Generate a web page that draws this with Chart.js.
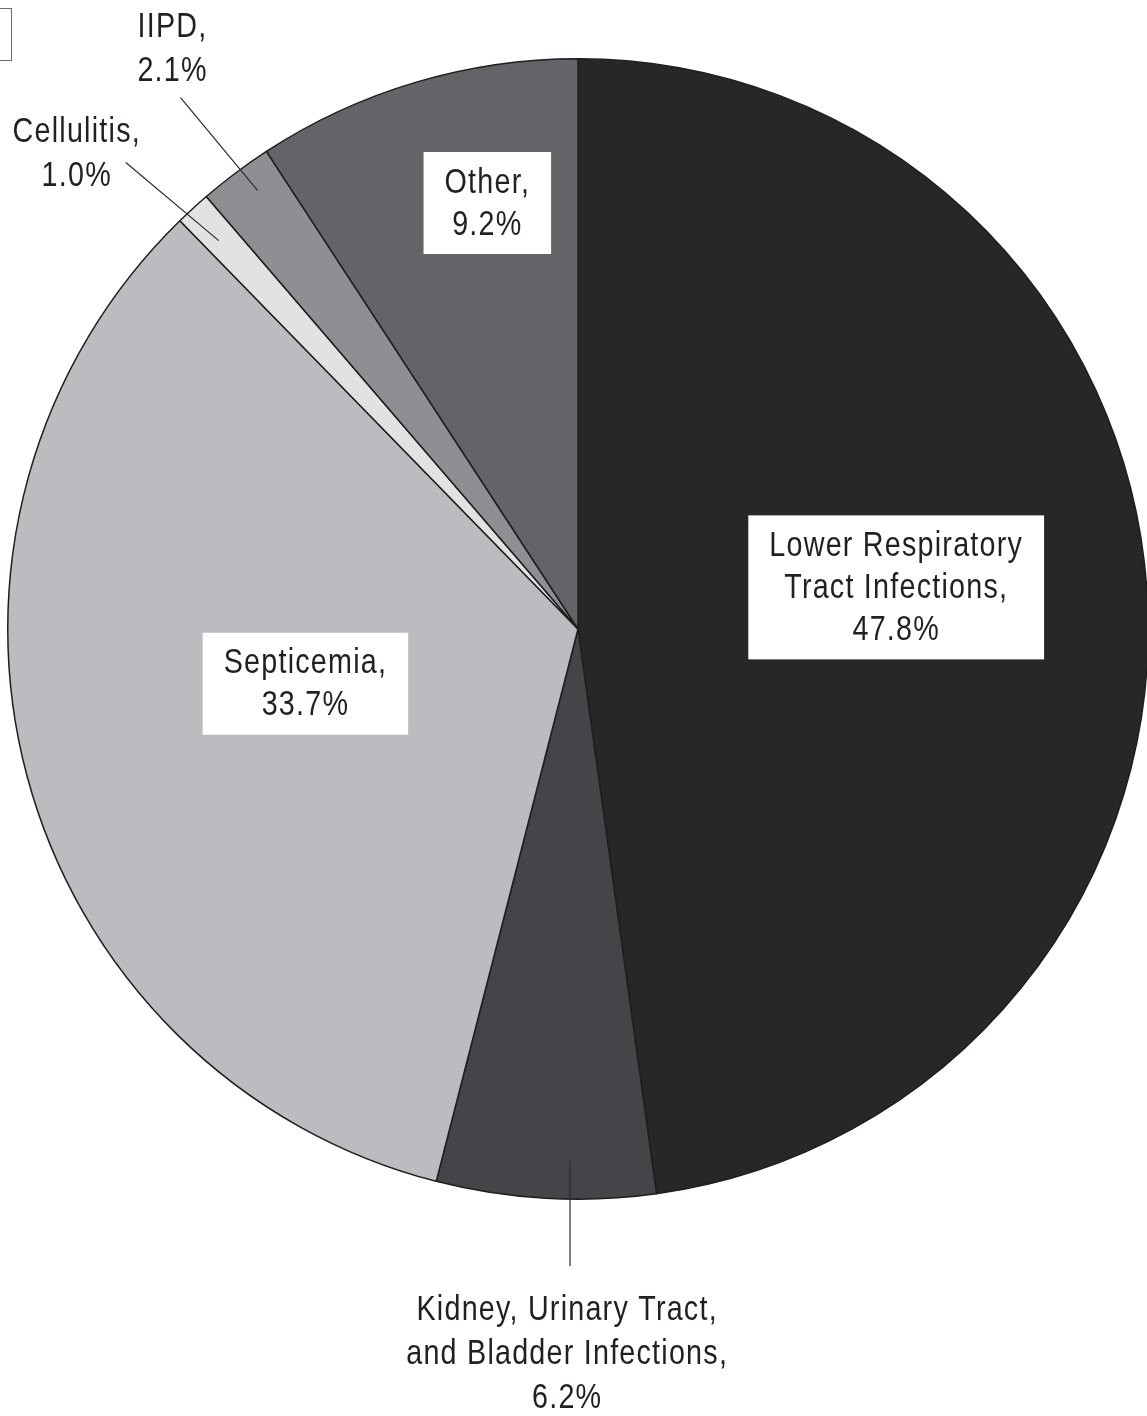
<!DOCTYPE html>
<html>
<head>
<meta charset="utf-8">
<script src="https://cdn.jsdelivr.net/npm/chart.js@4.4.1/dist/chart.umd.min.js"></script>
<style>
  html, body { margin: 0; padding: 0; background: #fff; overflow: hidden; }
  #wrap { position: relative; width: 1147px; height: 1416px; overflow: hidden; }
  #wrap canvas { position: absolute; left: 0; top: 0; }
  .corner { position: absolute; left: -2px; top: 8px; width: 12px; height: 51px; border: 1px solid #6a6a6a; }
</style>
</head>
<body>
<div id="wrap">
  <canvas id="infChart" width="1160" height="1416"></canvas>
  <div class="corner"></div>
</div>
<script>
// slices, clockwise from 12 o'clock
const categories = ["Lower Respiratory Tract Infections", "Kidney, Urinary Tract, and Bladder Infections", "Septicemia", "Cellulitis", "IIPD", "Other"];
const shares = [47.8, 6.2, 33.7, 1.0, 2.1, 9.2];
const labelText = [
    ["Lower Respiratory", "Tract Infections,"],
    ["Kidney, Urinary Tract,", "and Bladder Infections,"],
    ["Septicemia,"],
    ["Cellulitis,"],
    ["IIPD,"],
    ["Other,"]
];
const sliceColors = ["#282627", "#454448", "#bbbcbf", "#e2e2e2", "#8e8f93", "#636467"];

// label placement, in units of the pie radius from its centre
const labelLayout = [
    { boxed: true, x: 0.558, y: -0.073 },
    { boxed: false, x: -0.019, y: 1.271, lead: [-0.014, 0.933, -0.014, 1.117] },
    { boxed: true, x: -0.478, y: 0.096 },
    { boxed: false, x: -0.879, y: -0.834, lead: [-0.630, -0.681, -0.793, -0.818] },
    { boxed: false, x: -0.711, y: -1.019, lead: [-0.562, -0.769, -0.697, -0.932] },
    { boxed: true, x: -0.159, y: -0.747 }
];

// no narrow font installed, so squeeze Liberation Sans horizontally
const SQUEEZE = 0.82;

const labelPlugin = {
    id: "sliceLabels",
    afterDatasetsDraw(chart) {
        const ctx = chart.ctx;
        const arc = chart.getDatasetMeta(0).data[0];
        const cx = arc.x, cy = arc.y, r = arc.outerRadius;
        ctx.save();
        ctx.font = '35px "Liberation Sans", Arial, sans-serif';
        ctx.letterSpacing = "1.5px";
        ctx.textAlign = "center";
        ctx.textBaseline = "middle";
        labelLayout.forEach(function(lay, i) {
            const lines = labelText[i].concat([shares[i].toFixed(1) + "%"]);
            const lx = cx + lay.x * r, ly = cy + lay.y * r;
            const lineH = lay.boxed ? 42 : 44;
            if (lay.lead) {
                ctx.strokeStyle = "#2b2b2b";
                ctx.lineWidth = 1.2;
                ctx.beginPath();
                ctx.moveTo(cx + lay.lead[0] * r, cy + lay.lead[1] * r);
                ctx.lineTo(cx + lay.lead[2] * r, cy + lay.lead[3] * r);
                ctx.stroke();
            }
            if (lay.boxed) {
                let w = 0;
                lines.forEach(function(t) { w = Math.max(w, ctx.measureText(t).width * SQUEEZE); });
                const bw = w + 42, bh = lines.length * lineH + 18;
                ctx.fillStyle = "#ffffff";
                ctx.fillRect(lx - bw / 2, ly - bh / 2, bw, bh);
            }
            ctx.fillStyle = "#231f20";
            const top = ly - (lines.length - 1) * lineH / 2 + 1;
            ctx.save();
            ctx.scale(SQUEEZE, 1);
            lines.forEach(function(t, k) {
                ctx.fillText(t, lx / SQUEEZE, top + k * lineH);
            });
            ctx.restore();
        });
        ctx.restore();
    }
};

const ctx1 = document.getElementById("infChart").getContext("2d");
new Chart(ctx1, {
    type: "pie",
    data: {
        labels: categories,
        datasets: [{
            data: shares,
            backgroundColor: sliceColors,
            borderColor: "#1e1e1e",
            borderWidth: 1.5
        }]
    },
    options: {
        responsive: false,
        animation: false,
        layout: { padding: { left: 7, right: 11, top: 58, bottom: 216 } },
        plugins: {
            legend: { display: false },
            tooltip: { enabled: false }
        }
    },
    plugins: [labelPlugin]
});
</script>
</body>
</html>
